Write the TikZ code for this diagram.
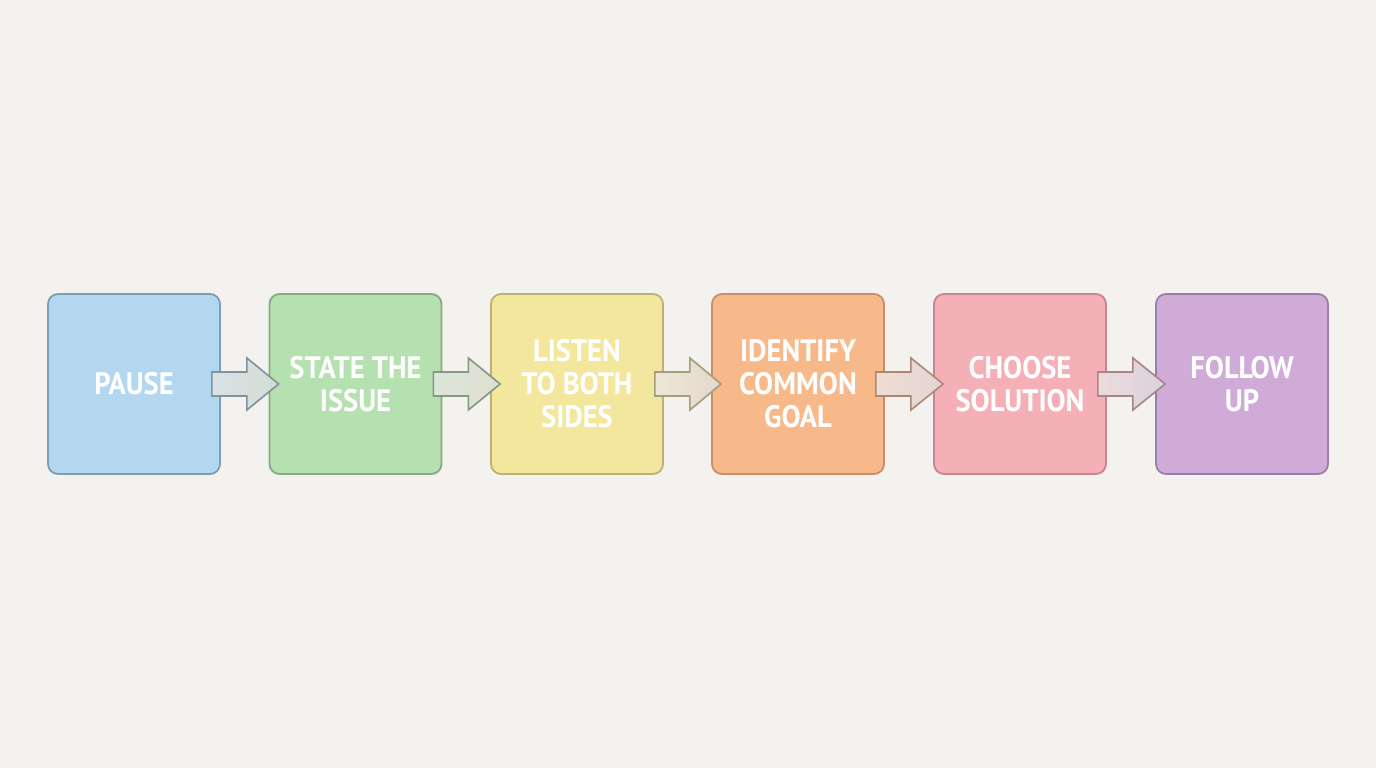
\documentclass[tikz,border=0pt]{standalone}
\usepackage{fontspec}
\newfontfamily\boxfont[FakeStretch=0.92]{PT Sans}
\usetikzlibrary{calc}
\definecolor{bg}{HTML}{F3F2EE}
\definecolor{fa}{HTML}{B3D7EE}\definecolor{da}{HTML}{7F9FB0}
\definecolor{fb}{HTML}{B5E0B0}\definecolor{db}{HTML}{86A883}
\definecolor{fc}{HTML}{F2E79C}\definecolor{dc}{HTML}{BDB276}
\definecolor{fd}{HTML}{F8B98A}\definecolor{dd}{HTML}{C98D6A}
\definecolor{fe}{HTML}{F5B0B7}\definecolor{de}{HTML}{C28790}
\definecolor{ff}{HTML}{D1ABD8}\definecolor{df}{HTML}{9C7EA6}
\tikzset{
  stepbox/.style={draw=#1, line width=1.8pt, rounded corners=10pt,
    minimum width=172pt, minimum height=180pt, inner sep=0pt,
    text=white, align=center, font=\boxfont\bfseries\fontsize{31}{33}\selectfont},
  flowarr/.style={line width=1.6pt, line join=miter},
}
\newcommand\flowarrow[4]{%
  \draw[flowarr, draw=#3!60!gray, shading=axis, shading angle=90,
        left color=#3!30!white, right color=#4!28!white!90!gray]
    ($(#1.east)+(-9,12)$) -- ($(#1.east)+(26,12)$) -- ($(#1.east)+(26,26)$) --
    ($(#2.west)+(10,0)$) -- ($(#1.east)+(26,-26)$) -- ($(#1.east)+(26,-12)$) --
    ($(#1.east)+(-9,-12)$) -- cycle;}
\begin{document}
\begin{tikzpicture}[x=1pt,y=1pt]
  \fill[bg] (0,0) rectangle (1376,768);
  \useasboundingbox (0,0) rectangle (1376,768);
  \node[stepbox=da, fill=fa] (s1) at (134,384) {PAUSE};
  \node[stepbox=db, fill=fb] (s2) at (355.5,384) {STATE THE\\ISSUE};
  \node[stepbox=dc, fill=fc] (s3) at (577,384) {LISTEN\\TO BOTH\\SIDES};
  \node[stepbox=dd, fill=fd] (s4) at (798,384) {IDENTIFY\\COMMON\\GOAL};
  \node[stepbox=de, fill=fe] (s5) at (1020,384) {CHOOSE\\SOLUTION};
  \node[stepbox=df, fill=ff] (s6) at (1242,384) {FOLLOW\\UP};
  \flowarrow{s1}{s2}{da}{db}
  \flowarrow{s2}{s3}{db}{dc}
  \flowarrow{s3}{s4}{dc}{dd}
  \flowarrow{s4}{s5}{dd}{de}
  \flowarrow{s5}{s6}{de}{df}
\end{tikzpicture}
\end{document}
